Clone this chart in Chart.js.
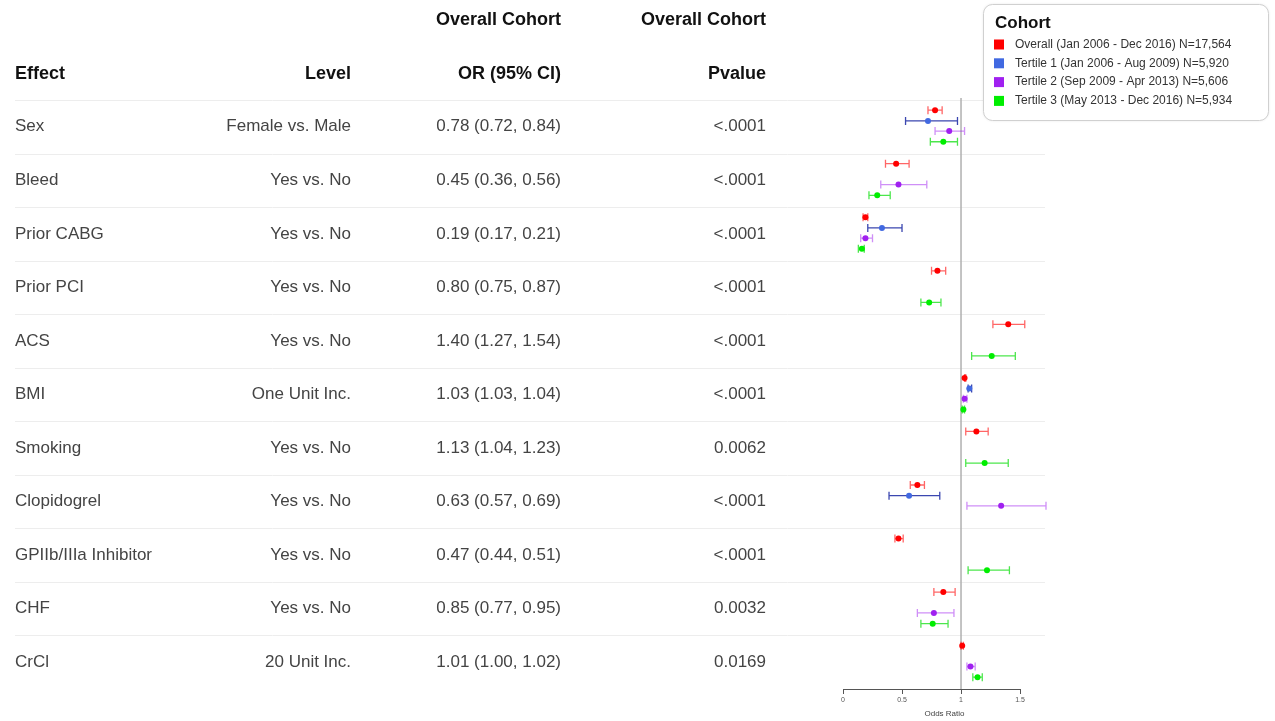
<!DOCTYPE html>
<html>
<head>
<meta charset="utf-8">
<script src="https://cdn.jsdelivr.net/npm/chart.js@4"></script>
<style>
  html, body { margin: 0; padding: 0; background: #fff; }
  #wrap { width: 1275px; height: 721px; position: relative; }
</style>
</head>
<body>
<div id="wrap"><canvas id="forestChart" width="1275" height="721"></canvas></div>
<script>
// table columns
const effects = ['Sex', 'Bleed', 'Prior CABG', 'Prior PCI', 'ACS', 'BMI', 'Smoking', 'Clopidogrel', 'GPIIb/IIIa Inhibitor', 'CHF', 'CrCl'];
const levels = ['Female vs. Male', 'Yes vs. No', 'Yes vs. No', 'Yes vs. No', 'Yes vs. No', 'One Unit Inc.', 'Yes vs. No', 'Yes vs. No', 'Yes vs. No', 'Yes vs. No', '20 Unit Inc.'];
const orLabels = ['0.78 (0.72, 0.84)', '0.45 (0.36, 0.56)', '0.19 (0.17, 0.21)', '0.80 (0.75, 0.87)', '1.40 (1.27, 1.54)', '1.03 (1.03, 1.04)', '1.13 (1.04, 1.23)', '0.63 (0.57, 0.69)', '0.47 (0.44, 0.51)', '0.85 (0.77, 0.95)', '1.01 (1.00, 1.02)'];
const pValues = ['<.0001', '<.0001', '<.0001', '<.0001', '<.0001', '<.0001', '0.0062', '<.0001', '<.0001', '0.0032', '0.0169'];

// odds ratios per cohort (null = not shown)
const overallOR = [0.78, 0.45, 0.19, 0.80, 1.40, 1.03, 1.13, 0.63, 0.47, 0.85, 1.01];
const overallLo = [0.72, 0.36, 0.17, 0.75, 1.27, 1.03, 1.04, 0.57, 0.44, 0.77, 1.00];
const overallHi = [0.84, 0.56, 0.21, 0.87, 1.54, 1.04, 1.23, 0.69, 0.51, 0.95, 1.02];

const tertile1OR = [0.72, null, 0.33, null, null, 1.07, null, 0.56, null, null, null];
const tertile1Lo = [0.53, null, 0.21, null, null, 1.06, null, 0.39, null, null, null];
const tertile1Hi = [0.97, null, 0.50, null, null, 1.09, null, 0.82, null, null, null];

const tertile2OR = [0.90, 0.47, 0.19, null, null, 1.03, null, 1.34, null, 0.77, 1.08];
const tertile2Lo = [0.78, 0.32, 0.15, null, null, 1.02, null, 1.05, null, 0.63, 1.05];
const tertile2Hi = [1.03, 0.71, 0.25, null, null, 1.05, null, 1.72, null, 0.94, 1.12];

const tertile3OR = [0.85, 0.29, 0.16, 0.73, 1.26, 1.02, 1.20, null, 1.22, 0.76, 1.14];
const tertile3Lo = [0.74, 0.22, 0.13, 0.66, 1.09, 1.01, 1.04, null, 1.06, 0.66, 1.10];
const tertile3Hi = [0.97, 0.40, 0.18, 0.83, 1.46, 1.03, 1.40, null, 1.41, 0.89, 1.18];

const cohortNames = ['Overall (Jan 2006 - Dec 2016) N=17,564', 'Tertile 1 (Jan 2006 - Aug 2009) N=5,920', 'Tertile 2 (Sep 2009 - Apr 2013) N=5,606', 'Tertile 3 (May 2013 - Dec 2016) N=5,934'];
const xTicks = [0, 0.5, 1, 1.5];

const pointColors = ['#ff0000', '#4169e1', '#a020f0', '#00ee00'];
const barColors = ['rgba(255,0,0,0.6)', '#3b47b0', 'rgba(160,32,240,0.5)', 'rgba(0,220,0,0.7)'];
const rowOffsets = [0.19, 0.39, 0.58, 0.78];

const cohorts = [
    [overallOR, overallLo, overallHi],
    [tertile1OR, tertile1Lo, tertile1Hi],
    [tertile2OR, tertile2Lo, tertile2Hi],
    [tertile3OR, tertile3Lo, tertile3Hi]
];

const datasets = cohorts.map((c, k) => ({
    label: cohortNames[k],
    data: c[0].map((v, i) => v === null ? null : { x: v, y: i + rowOffsets[k], lo: c[1][i], hi: c[2][i] }).filter(d => d),
    backgroundColor: pointColors[k],
    borderColor: pointColors[k],
    pointRadius: 3,
    pointBorderWidth: 0,
    barColor: barColors[k]
}));

const FONT = '"Liberation Sans", Arial, Helvetica, sans-serif';

const tablePlugin = {
    id: 'forestTable',
    beforeDatasetsDraw(chart) {
        const ctx = chart.ctx;
        const x = chart.scales.x;
        const y = chart.scales.y;
        ctx.save();

        // row separators
        ctx.strokeStyle = '#ededed';
        ctx.lineWidth = 1;
        for (let i = 0; i < effects.length; i++) {
            const py = Math.round(y.getPixelForValue(i)) + 0.5;
            ctx.beginPath();
            ctx.moveTo(15, py);
            ctx.lineTo(1045, py);
            ctx.stroke();
        }

        // reference line at OR = 1
        const px1 = x.getPixelForValue(1);
        ctx.strokeStyle = '#b0b0b0';
        ctx.lineWidth = 1.5;
        ctx.beginPath();
        ctx.moveTo(px1, y.getPixelForValue(0) - 2);
        ctx.lineTo(px1, y.bottom);
        ctx.stroke();

        // axis line from first to last tick
        ctx.strokeStyle = '#555';
        ctx.lineWidth = 1;
        ctx.beginPath();
        ctx.moveTo(x.getPixelForValue(xTicks[0]), y.bottom + 0.5);
        ctx.lineTo(x.getPixelForValue(xTicks[xTicks.length - 1]), y.bottom + 0.5);
        ctx.stroke();

        // headers
        ctx.fillStyle = '#111';
        ctx.font = 'bold 18px ' + FONT;
        ctx.textBaseline = 'middle';
        ctx.textAlign = 'left';
        ctx.fillText('Effect', 15, 74);
        ctx.textAlign = 'right';
        ctx.fillText('Level', 351, 74);
        ctx.fillText('Overall Cohort', 561, 20);
        ctx.fillText('OR (95% CI)', 561, 74);
        ctx.fillText('Overall Cohort', 766, 20);
        ctx.fillText('Pvalue', 766, 74);

        // rows
        ctx.fillStyle = '#444';
        ctx.font = '17px ' + FONT;
        effects.forEach((e, i) => {
            const py = y.getPixelForValue(i + 0.5);
            ctx.textAlign = 'left';
            ctx.fillText(e, 15, py);
            ctx.textAlign = 'right';
            ctx.fillText(levels[i], 351, py);
            ctx.fillText(orLabels[i], 561, py);
            ctx.fillText(pValues[i], 766, py);
        });

        // error bars
        chart.data.datasets.forEach(ds => {
            ctx.strokeStyle = ds.barColor;
            ctx.lineWidth = 1.3;
            ds.data.forEach(d => {
                const py = y.getPixelForValue(d.y);
                const a = x.getPixelForValue(d.lo);
                const b = x.getPixelForValue(d.hi);
                ctx.beginPath();
                ctx.moveTo(a, py);
                ctx.lineTo(b, py);
                ctx.moveTo(a, py - 4);
                ctx.lineTo(a, py + 4);
                ctx.moveTo(b, py - 4);
                ctx.lineTo(b, py + 4);
                ctx.stroke();
            });
        });
        ctx.restore();
    },
    afterDraw(chart) {
        const ctx = chart.ctx;
        ctx.save();
        // legend box
        const bx = 983, by = 4, bw = 285, bh = 116, r = 9;
        ctx.shadowColor = 'rgba(0,0,0,0.12)';
        ctx.shadowBlur = 3;
        ctx.fillStyle = '#fff';
        ctx.strokeStyle = '#d0d0d0';
        ctx.lineWidth = 1;
        ctx.beginPath();
        ctx.roundRect(bx + 0.5, by + 0.5, bw, bh, r);
        ctx.fill();
        ctx.shadowColor = 'transparent';
        ctx.stroke();

        ctx.fillStyle = '#111';
        ctx.font = 'bold 17px ' + FONT;
        ctx.textAlign = 'left';
        ctx.textBaseline = 'middle';
        ctx.fillText('Cohort', 995, 23);

        ctx.font = '12px ' + FONT;
        cohortNames.forEach((name, k) => {
            const py = 44.5 + k * 18.8;
            ctx.fillStyle = pointColors[k];
            ctx.fillRect(994, py - 5, 10, 10);
            ctx.fillStyle = '#333';
            ctx.fillText(name, 1015, py);
        });
        ctx.restore();
    }
};

const ctx = document.getElementById('forestChart').getContext('2d');
new Chart(ctx, {
    type: 'scatter',
    data: { datasets: datasets },
    options: {
        responsive: false,
        animation: false,
        layout: { padding: { left: 843, right: 229, top: 100, bottom: 2 } },
        plugins: {
            legend: { display: false },
            tooltip: { enabled: false }
        },
        scales: {
            x: {
                type: 'linear',
                min: 0,
                max: 1.72,
                afterBuildTicks: s => { s.ticks = xTicks.map(v => ({ value: v })); },
                border: { display: false },
                grid: { drawOnChartArea: false, drawTicks: true, tickLength: 5, color: '#555' },
                ticks: { font: { size: 7, family: FONT }, color: '#555', padding: 2, maxRotation: 0, callback: v => String(v) },
                title: { display: true, text: 'Odds Ratio', font: { size: 8, family: FONT }, color: '#444', padding: { top: 3, bottom: 0 } }
            },
            y: {
                type: 'linear',
                display: false,
                reverse: true,
                min: 0,
                max: 11
            }
        }
    },
    plugins: [tablePlugin]
});
</script>
</body>
</html>
